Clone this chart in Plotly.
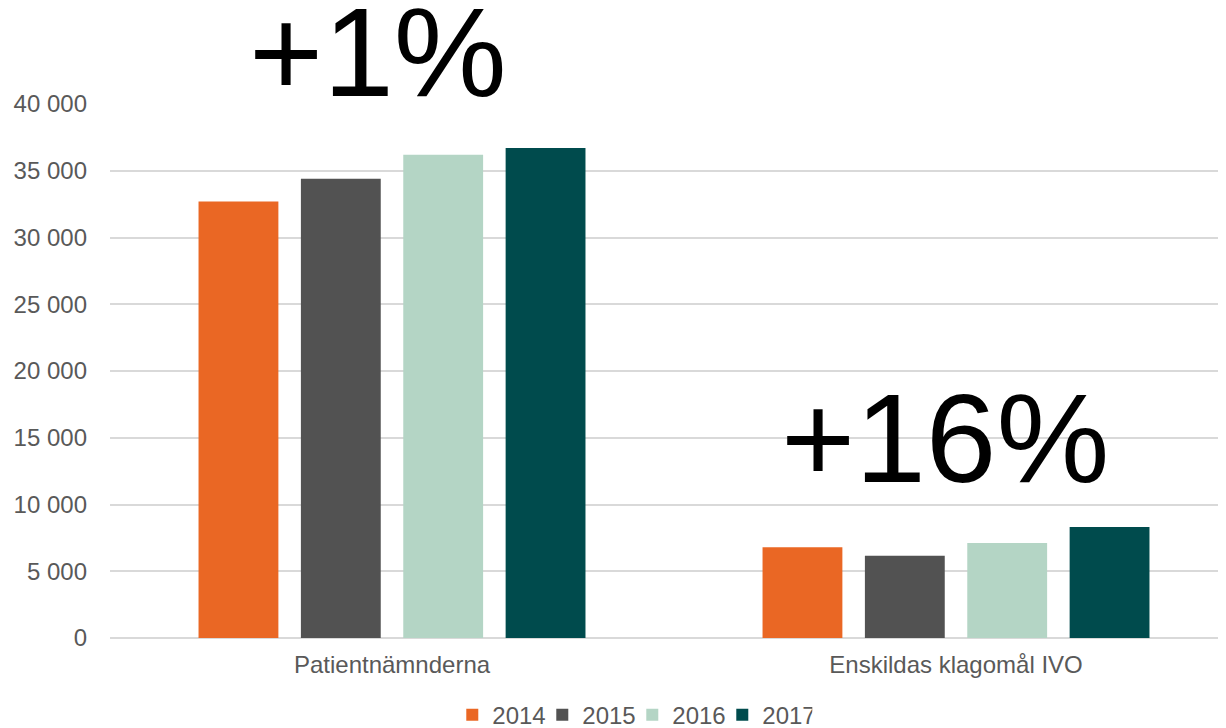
import plotly.graph_objects as go

categories = ["Patientnämnderna", "Enskildas klagomål IVO"]
years = ["2014", "2015", "2016", "2017"]
values_2014 = [32700, 6800]
values_2015 = [34400, 6170]
values_2016 = [36200, 7120]
values_2017 = [36700, 8310]
series = [values_2014, values_2015, values_2016, values_2017]
colors = ["#EA6724", "#525252", "#B4D5C5", "#004B4D"]
tick_values = [0, 5000, 10000, 15000, 20000, 25000, 30000, 35000, 40000]
tick_labels = ["0", "5 000", "10 000", "15 000", "20 000", "25 000", "30 000", "35 000", "40 000"]
changes = ["+1%", "+16%"]

fig = go.Figure()
for yr, vals, col in zip(years, series, colors):
    fig.add_trace(go.Bar(name=yr, x=categories, y=vals, marker=dict(color=col, line=dict(width=0))))

ann_pos = [(1.098, -14), (0.3745, -11)]
for cat, txt, (yv, xs) in zip(categories, changes, ann_pos):
    fig.add_annotation(x=cat, y=yv, text=txt, showarrow=False, xref="x", yref="paper",
                       yanchor="middle", xanchor="center",
                       font=dict(family="Liberation Sans, Arial", size=127, color="#000000"),
                       xshift=xs)

fig.update_layout(
    width=1218, height=720,
    margin=dict(l=102, r=0, t=96, b=90, autoexpand=False),
    paper_bgcolor="white", plot_bgcolor="white",
    barmode="group", bargap=0.274, bargroupgap=0.22,
    font=dict(family="Liberation Sans, Arial", color="#595959", size=24),
    legend=dict(orientation="h", x=0.468, xanchor="center", yref="container", y=0.018,
                yanchor="middle", font=dict(size=24, color="#595959"), itemwidth=30,
                entrywidth=45, entrywidthmode="pixels", tracegroupgap=0),
    showlegend=True,
)
fig.update_xaxes(range=[-0.5, 1.4787], showgrid=False, showline=False, ticks="",
                 tickfont=dict(size=24, color="#595959"), ticklabelstandoff=10, automargin=False)
fig.update_yaxes(range=[0, 40000], tickvals=tick_values, ticktext=tick_labels,
                 showgrid=True, gridcolor="#D9D9D9", gridwidth=2, zeroline=True,
                 zerolinecolor="#D9D9D9", zerolinewidth=2, showline=False,
                 tickfont=dict(size=24, color="#595959"), ticklabelstandoff=22, automargin=False)

fig.write_html("out.html")
